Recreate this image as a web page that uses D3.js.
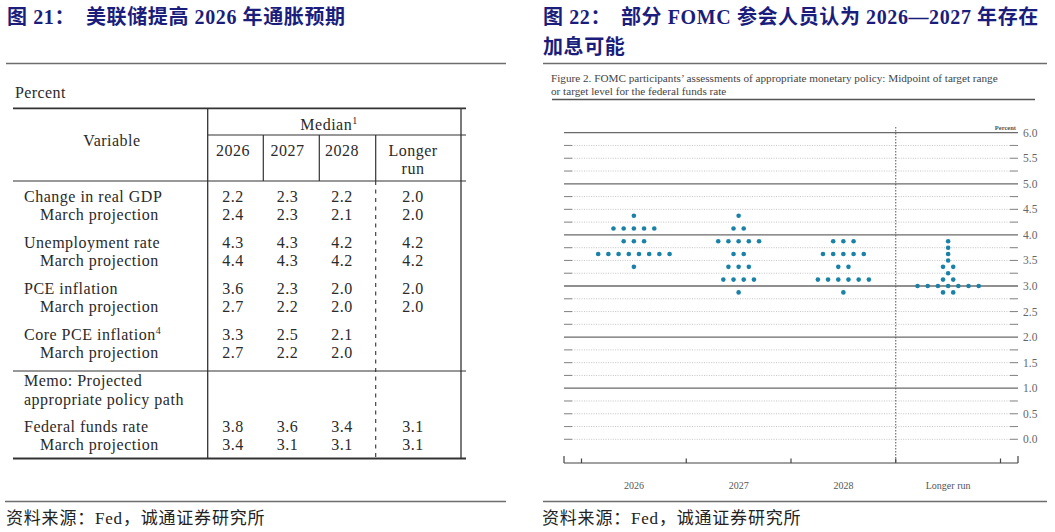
<!DOCTYPE html>
<html><head><meta charset="utf-8">
<script src="https://cdn.jsdelivr.net/npm/d3@7"></script>
<style>
html,body{margin:0;padding:0;background:#fff;}
svg{display:block;}
</style></head>
<body>
<svg id="c" width="1055" height="532"></svg>
<script>
// ---------- Data: left table ----------
const tableColumns = ["2026", "2027", "2028", "Longer run"];
const variables = ["Change in real GDP", "Unemployment rate", "PCE inflation", "Core PCE inflation", "Federal funds rate"];
const variableSup = ["", "", "", "4", ""];
const currentProj = [
  [2.2, 2.3, 2.2, 2.0],
  [4.3, 4.3, 4.2, 4.2],
  [3.6, 2.3, 2.0, 2.0],
  [3.3, 2.5, 2.1, null],
  [3.8, 3.6, 3.4, 3.1]
];
const marchProj = [
  [2.4, 2.3, 2.1, 2.0],
  [4.4, 4.3, 4.2, 4.2],
  [2.7, 2.2, 2.0, 2.0],
  [2.7, 2.2, 2.0, null],
  [3.4, 3.1, 3.1, 3.1]
];
// ---------- Data: right dot plot ----------
const dotCategories = ["2026", "2027", "2028", "Longer run"];
const dots2026 = [[4.375, 1], [4.125, 5], [3.875, 3], [3.625, 8], [3.375, 1]];
const dots2027 = [[4.375, 1], [4.125, 2], [3.875, 5], [3.625, 2], [3.375, 3], [3.125, 4], [2.875, 1]];
const dots2028 = [[3.875, 3], [3.625, 5], [3.375, 2], [3.125, 6], [2.875, 1]];
const dotsLonger = [[3.875, 1], [3.75, 1], [3.625, 1], [3.5, 1], [3.375, 2], [3.25, 1], [3.125, 2], [3.0, 7], [2.875, 2]];
const yTickLabels = ["0.0","0.5","1.0","1.5","2.0","2.5","3.0","3.5","4.0","4.5","5.0","5.5","6.0"];

const svg = d3.select("#c");
svg.append("rect").attr("width", 1055).attr("height", 532).attr("fill", "#fff");

const titleColor = "#1b1d7c";
const serif = "'Liberation Serif','Noto Sans CJK SC',serif";
const cjk = "'Liberation Serif','Noto Sans CJK SC',sans-serif";

// ---------- Titles ----------
function title(x, y, txt) {
  svg.append("text").attr("x", x).attr("y", y).attr("dy", "0.35em")
    .attr("font-family", cjk).attr("font-weight", "bold").attr("font-size", 20)
    .attr("letter-spacing", 0.6)
    .attr("fill", titleColor).text(txt);
}
title(7, 17, "图 21：");
title(86, 17, "美联储提高 2026 年通胀预期");
title(543, 17, "图 22：");
title(621, 17, "部分 FOMC 参会人员认为 2026—2027 年存在");
title(543, 47, "加息可能");

function hline(x1, x2, y, w, col) {
  svg.append("line").attr("x1", x1).attr("x2", x2).attr("y1", y).attr("y2", y)
    .attr("stroke", col).attr("stroke-width", w);
}
hline(6, 506, 63.5, 1.6, "#6d6d6d");
hline(543, 1047, 63.5, 1.6, "#6d6d6d");
hline(5, 506, 501.5, 1.6, "#6d6d6d");
hline(543, 1047, 501.5, 1.6, "#6d6d6d");

function source(x) {
  svg.append("text").attr("x", x).attr("y", 518).attr("dy", "0.35em")
    .attr("font-family", cjk).attr("font-size", 17).attr("letter-spacing", 0.8).attr("fill", "#222")
    .text("资料来源：Fed，诚通证券研究所");
}
source(6); source(542);

// ---------- Left table ----------
const tg = svg.append("g");
const tcol = "#2a2a2a";
const tFont = 16;
const colX = d3.scaleOrdinal().domain(tableColumns).range([233, 287.5, 342, 413]);
const tableLeft = 13, tableRight = 466, splitX = 207.7;
const colSep = [263.3, 319.3, 375.7];

tg.append("text").attr("x", 15).attr("y", 92).attr("dy", "0.35em")
  .attr("font-family", serif).attr("font-size", 16).attr("letter-spacing", 0.4).attr("fill", tcol).text("Percent");

function tl(x1, y1, x2, y2, w, dash) {
  const l = tg.append("line").attr("x1", x1).attr("y1", y1).attr("x2", x2).attr("y2", y2)
    .attr("stroke", "#333").attr("stroke-width", w);
  if (dash) l.attr("stroke-dasharray", dash);
  return l;
}
tl(tableLeft, 108.3, tableRight, 108.3, 1.8);
tl(splitX, 135, tableRight, 135, 1.2);
tl(tableLeft, 181, tableRight, 181, 1.2);
tl(tableLeft, 371, tableRight, 371, 1.2);
tl(tableLeft, 458.5, tableRight, 458.5, 1.8);
tl(splitX, 108.3, splitX, 458.5, 1.3);
tl(461, 108.3, 461, 458.5, 1.3);
colSep.forEach(x => tl(x, 135, x, 181, 1.2));
tl(colSep[2], 181, colSep[2], 458.5, 1.1, "4,4.5");

function ttext(x, y, txt, anchor, size) {
  return tg.append("text").attr("x", x).attr("y", y).attr("dy", "0.35em")
    .attr("font-family", serif).attr("font-size", size || tFont).attr("fill", tcol)
    .attr("letter-spacing", 0.5)
    .attr("text-anchor", anchor || "start").text(txt);
}
ttext(112, 140, "Variable", "middle");
const med = ttext(329, 124, "Median", "middle");
med.append("tspan").attr("font-size", 10).attr("dy", "-0.6em").text("1");
tableColumns.forEach(c => {
  if (c === "Longer run") {
    ttext(colX(c), 150, "Longer", "middle");
    ttext(colX(c), 168, "run", "middle");
  } else {
    ttext(colX(c), 150, c, "middle");
  }
});

const groupY = [196, 242, 288, 334, 426];
const subGap = 18.5;
variables.forEach((v, i) => {
  const y0 = groupY[i];
  const t = ttext(24, y0, v);
  if (variableSup[i]) t.append("tspan").attr("font-size", 10).attr("dy", "-0.6em").text(variableSup[i]);
  ttext(40, y0 + subGap, "March projection");
  tableColumns.forEach((c, j) => {
    if (currentProj[i][j] !== null) ttext(colX(c), y0, d3.format(".1f")(currentProj[i][j]), "middle");
    if (marchProj[i][j] !== null) ttext(colX(c), y0 + subGap, d3.format(".1f")(marchProj[i][j]), "middle");
  });
});
ttext(24, 380.7, "Memo: Projected");
ttext(24, 399, "appropriate policy path");

// ---------- Right dot plot ----------
const dg = svg.append("g");
dg.append("text").attr("x", 551).attr("y", 77.7).attr("dy", "0.35em")
  .attr("font-family", serif).attr("font-size", 11.2).attr("fill", "#444")
  .text("Figure 2. FOMC participants\u2019 assessments of appropriate monetary policy: Midpoint of target range");
dg.append("text").attr("x", 551).attr("y", 90.7).attr("dy", "0.35em")
  .attr("font-family", serif).attr("font-size", 11.2).attr("fill", "#444")
  .text("or target level for the federal funds rate");
dg.append("line").attr("x1", 552).attr("x2", 1035).attr("y1", 99.5).attr("y2", 99.5)
  .attr("stroke", "#555").attr("stroke-width", 1.4);

const y = d3.scaleLinear().domain([0, 6]).range([439.3, 132.7]);
const x = d3.scaleBand().domain(dotCategories).range([581.5, 1000.5]);
const plotL = 564, plotR = 1018, tickLen = 8;

// grid lines every 0.25
const gridVals = d3.range(0, 24.001, 1).map(k => k * 0.25);
gridVals.forEach(v => {
  const yy = y(v);
  if (Math.abs(v - Math.round(v)) < 1e-9 && v > 0) {
    dg.append("line").attr("x1", plotL).attr("x2", plotR).attr("y1", yy).attr("y2", yy)
      .attr("stroke", "#6a6a6a").attr("stroke-width", 1.3);
  } else {
    dg.append("line").attr("x1", plotL + tickLen).attr("x2", plotR - tickLen).attr("y1", yy).attr("y2", yy)
      .attr("stroke", "#bdbdbd").attr("stroke-width", 0.9).attr("stroke-dasharray", "1,1.4");
    dg.append("line").attr("x1", plotL).attr("x2", plotL + tickLen).attr("y1", yy).attr("y2", yy)
      .attr("stroke", "#8a8a8a").attr("stroke-width", 1.1);
    dg.append("line").attr("x1", plotR - tickLen).attr("x2", plotR).attr("y1", yy).attr("y2", yy)
      .attr("stroke", "#8a8a8a").attr("stroke-width", 1.1);
  }
});

// y tick labels
yTickLabels.forEach(lbl => {
  dg.append("text").attr("x", 1023).attr("y", y(+lbl)).attr("dy", "0.35em")
    .attr("font-family", serif).attr("font-size", 11.5).attr("fill", "#666").text(lbl);
});
dg.append("text").attr("x", 1016).attr("y", 128).attr("dy", "0.35em").attr("text-anchor", "end")
  .attr("font-family", serif).attr("font-size", 6.5).attr("font-weight", "bold").attr("fill", "#555").text("Percent");

// vertical dashed divider before Longer run
const divX = x("Longer run");
const axisY = 463;
dg.append("line").attr("x1", divX).attr("x2", divX).attr("y1", 127).attr("y2", axisY)
  .attr("stroke", "#555").attr("stroke-width", 1).attr("stroke-dasharray", "1.5,1.5");

// bottom axis
dg.append("line").attr("x1", plotL).attr("x2", plotR).attr("y1", axisY).attr("y2", axisY)
  .attr("stroke", "#444").attr("stroke-width", 1.2);
[plotL, plotR].forEach(xx => dg.append("line").attr("x1", xx).attr("x2", xx)
  .attr("y1", axisY - 7).attr("y2", axisY).attr("stroke", "#444").attr("stroke-width", 1.2));
const bounds = dotCategories.map(c => x(c)).concat([x(dotCategories[dotCategories.length - 1]) + x.bandwidth()]);
bounds.forEach(xx => dg.append("line").attr("x1", xx).attr("x2", xx)
  .attr("y1", axisY - 4.5).attr("y2", axisY).attr("stroke", "#444").attr("stroke-width", 1.2));
dotCategories.forEach(c => {
  dg.append("text").attr("x", x(c) + x.bandwidth() / 2).attr("y", 485).attr("dy", "0.35em")
    .attr("text-anchor", "middle").attr("font-family", serif).attr("font-size", 10).attr("fill", "#555").text(c);
});

// dots
const dotSets = [dots2026, dots2027, dots2028, dotsLonger];
const spacing = 10.2;
const dotData = [];
dotSets.forEach((set, ci) => {
  const cx = x(dotCategories[ci]) + x.bandwidth() / 2;
  set.forEach(([val, n]) => {
    for (let k = 0; k < n; k++) dotData.push({ x: cx + (k - (n - 1) / 2) * spacing, v: val });
  });
});
dg.selectAll("circle.dot").data(dotData).enter().append("circle").attr("class", "dot")
  .attr("cx", d => d.x).attr("cy", d => y(d.v)).attr("r", 2.3).attr("fill", "#1a82a8");
</script>
</body></html>
